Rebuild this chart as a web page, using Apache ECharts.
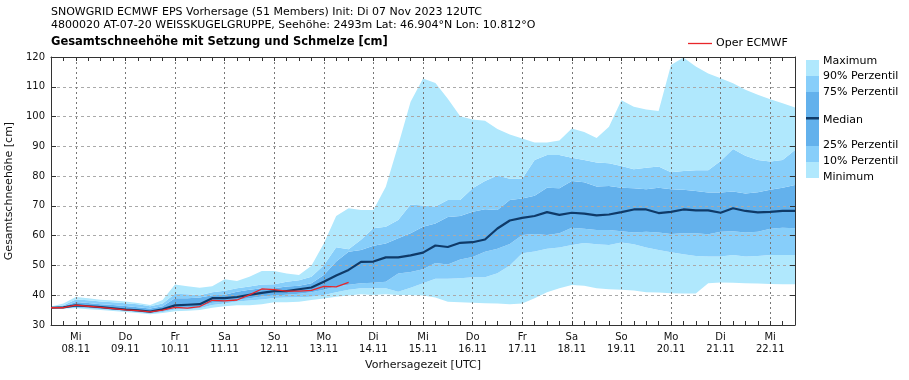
<!DOCTYPE html>
<html><head><meta charset="utf-8">
<script src="https://cdn.jsdelivr.net/npm/echarts@6/dist/echarts.min.js"></script>
<style>html,body{margin:0;padding:0;background:#fff}#c{width:909px;height:380px}</style>
</head><body><div id="c"></div>
<script>
// 6-hourly steps from Init Tue 07 Nov 2023 12UTC to 22 Nov 12UTC
const dayNames = ['Mi','Do','Fr','Sa','So','Mo','Di','Mi','Do','Fr','Sa','So','Mo','Di','Mi'];
const dayDates = ['08.11','09.11','10.11','11.11','12.11','13.11','14.11','15.11','16.11','17.11','18.11','19.11','20.11','21.11','22.11'];

const maximum = [36.2,37.2,39.4,39.0,38.5,38.2,37.9,37.4,36.7,38.4,43.6,43.0,42.5,43.0,45.4,44.8,46.2,48.1,48.1,47.3,46.8,49.9,57.4,66.6,69.2,68.6,68.6,76.4,90.4,105.0,112.8,111.3,106.0,100.1,99.0,98.6,95.8,94.0,92.6,91.3,91.3,92.0,96.0,94.8,92.8,96.6,105.5,103.3,102.4,101.9,117.3,119.8,116.8,114.5,112.9,111.2,109.0,107.3,105.8,104.5,103.0];
const p90 = [36.0,36.6,38.6,38.3,37.9,37.6,37.3,37.0,36.3,37.2,40.5,40.3,40.0,41.0,41.5,42.3,42.9,43.6,43.7,44.5,45.0,46.2,50.1,56.1,55.4,58.6,62.5,63.0,65.3,70.5,70.1,69.8,72.0,72.0,75.9,78.4,80.2,79.1,79.1,85.4,87.1,87.1,86.2,85.4,84.6,84.3,83.4,82.3,82.8,83.2,81.3,81.7,82.0,82.0,85.1,89.1,86.8,85.4,84.9,85.4,88.8];
const p75 = [35.9,36.2,37.7,37.4,37.0,36.7,36.4,36.0,35.5,36.3,39.0,39.0,39.2,40.0,40.2,41.2,41.8,42.3,42.3,42.9,43.2,44.0,46.8,51.3,54.6,55.2,56.6,57.4,59.1,60.8,63.0,64.1,66.3,66.6,68.0,68.9,68.6,72.0,72.5,73.4,76.1,75.9,78.4,77.9,76.5,76.7,76.1,75.9,75.6,76.1,75.6,75.4,75.0,74.5,74.5,74.8,74.2,74.6,75.4,76.1,77.0];
const median = [35.8,35.9,36.6,36.3,36.0,35.6,35.2,34.9,34.5,35.3,36.6,36.8,37.0,39.0,39.0,39.4,40.1,40.8,41.4,41.4,42.0,42.6,44.5,46.6,48.5,51.2,51.3,52.7,52.7,53.4,54.3,56.7,56.2,57.6,57.8,58.7,62.4,65.1,66.0,66.6,67.9,67.0,67.7,67.4,66.8,67.1,67.9,68.8,68.8,67.6,68.0,68.8,68.5,68.5,67.7,69.2,68.3,67.8,68.0,68.3,68.3];
const p25 = [35.7,35.8,36.1,35.9,35.6,35.3,35.0,34.6,34.1,34.8,35.8,35.9,36.2,37.5,37.8,38.5,39.0,39.6,39.9,40.2,40.5,41.0,41.8,42.9,43.5,44.0,44.2,44.5,47.3,47.8,48.7,50.8,50.3,52.0,52.8,54.6,55.6,57.2,60.2,60.6,60.2,60.8,62.7,62.3,61.9,61.9,61.5,61.1,61.3,61.1,60.6,60.8,60.8,60.5,61.3,61.5,61.1,61.3,62.3,62.7,62.5];
const p10 = [35.6,35.7,35.8,35.6,35.3,35.0,34.7,34.3,33.9,34.4,35.2,35.3,35.6,36.7,37.2,37.9,38.2,38.6,39.1,39.2,39.3,39.5,40.1,41.0,41.8,42.3,42.3,42.3,41.2,42.5,44.0,45.5,45.5,45.7,46.0,46.0,47.4,50.0,54.1,54.7,55.6,56.0,56.9,57.5,57.1,56.9,57.7,57.1,56.0,55.2,54.4,53.8,53.2,53.0,53.0,53.5,53.0,53.2,53.5,53.5,53.5];
const minimum = [35.5,35.5,35.6,35.3,35.0,34.7,34.4,34.0,33.6,34.0,34.6,34.8,35.0,35.8,36.3,36.6,36.6,37.0,37.6,37.6,37.8,38.4,38.9,39.5,39.9,40.3,40.1,40.3,40.1,40.1,39.9,39.2,37.8,37.6,37.5,37.3,37.2,37.0,37.2,39.0,41.0,42.3,43.4,43.2,42.3,42.0,41.8,41.6,41.0,40.9,40.7,40.6,40.6,44.0,44.3,44.2,44.0,43.9,43.8,43.7,43.7];
const oper = [35.8,35.8,36.7,36.3,35.9,35.5,35.1,34.8,34.4,35.0,35.9,35.7,36.2,38.3,38.1,38.4,40.1,42.1,41.9,41.4,41.4,41.6,43.0,42.8,44.3];

const C_LIGHT = '#b0e8fd', C_MID = '#87cefa', C_DARK = '#63b1ec', C_MED = '#0f3a68', C_OPER = '#e8262a';
const FONT = '"DejaVu Sans", sans-serif';

const n = median.length;
const categories = [];
for (let i = 0; i < n; i++) categories.push('+' + (i * 6) + 'h');
const isDay = (idx) => idx >= 2 && (idx - 2) % 4 === 0;
const diff = (a, b) => a.map((v, i) => +(v - b[i]).toFixed(2));

function band(name, data, color) {
  return { name, type: 'line', stack: 'b', data, symbol: 'none', z: 1,
    lineStyle: { width: 0, opacity: 0 }, areaStyle: { color, opacity: 1 }, silent: true };
}
function txt(x, y, text, font) {
  return { type: 'text', x, y, style: { text, font: font || ('11px ' + FONT), fill: '#000', verticalAlign: 'middle', textVerticalAlign: 'middle' } };
}

const chart = echarts.init(document.getElementById('c'), null, { renderer: 'canvas' });
chart.setOption({
  animation: false,
  textStyle: { fontFamily: FONT },
  grid: { left: 51, right: 114, top: 57, bottom: 55, containLabel: false, outerBoundsMode: 'none' },
  xAxis: [{
    type: 'category', data: categories, boundaryGap: false, z: 2,
    axisLine: { lineStyle: { color: '#333', width: 1 } },
    axisTick: { inside: true, length: 4, interval: 0, lineStyle: { color: '#333' } },
    axisLabel: { interval: isDay, margin: 6, fontSize: 10, lineHeight: 12, color: '#111', fontFamily: FONT,
      formatter: (v, idx) => { const k = (idx - 2) / 4; return dayNames[k] + '\n' + dayDates[k]; } },
    splitLine: { show: true, interval: isDay, lineStyle: { color: '#777', type: [2, 3], width: 1 } },
    name: 'Vorhersagezeit [UTC]', nameLocation: 'middle', nameGap: 34,
    nameTextStyle: { fontSize: 11, color: '#111', fontFamily: FONT }
  }, {
    type: 'category', data: categories, boundaryGap: false, position: 'top', z: 2,
    axisLine: { lineStyle: { color: '#333', width: 1 } },
    axisTick: { inside: true, length: 4, interval: 0, lineStyle: { color: '#333' } },
    axisLabel: { show: false }, splitLine: { show: false }
  }],
  yAxis: [{
    type: 'value', min: 30, max: 120, interval: 10, z: 2,
    axisLine: { show: true, lineStyle: { color: '#333', width: 1 } },
    axisTick: { show: true, inside: true, length: 5, lineStyle: { color: '#333' } },
    axisLabel: { fontSize: 10, color: '#111', margin: 6, fontFamily: FONT },
    splitLine: { show: true, lineStyle: { color: '#aaa', type: [3, 3], width: 1 } },
    name: 'Gesamtschneehöhe [cm]', nameLocation: 'middle', nameGap: 25,
    nameTextStyle: { fontSize: 11, color: '#111', fontFamily: FONT }
  }, {
    type: 'value', min: 30, max: 120, interval: 10, position: 'right', z: 2,
    axisLine: { show: true, lineStyle: { color: '#333', width: 1 } },
    axisTick: { show: true, inside: true, length: 5, lineStyle: { color: '#333' } },
    axisLabel: { show: false }, splitLine: { show: false }
  }],
  series: [
    { name: 'base', type: 'line', stack: 'b', data: minimum, symbol: 'none', z: 1, lineStyle: { opacity: 0, width: 0 }, silent: true },
    band('Minimum', diff(p10, minimum), C_LIGHT),
    band('10% Perzentil', diff(p25, p10), C_MID),
    band('25% Perzentil', diff(p75, p25), C_DARK),
    band('75% Perzentil', diff(p90, p75), C_MID),
    band('Maximum', diff(maximum, p90), C_LIGHT),
    { name: 'Median', type: 'line', data: median, symbol: 'none', z: 4, lineStyle: { color: C_MED, width: 2.2 } },
    { name: 'Oper ECMWF', type: 'line', data: oper, symbol: 'none', z: 5, lineStyle: { color: C_OPER, width: 1.3 } }
  ],
  graphic: [
    txt(51, 12.5, 'SNOWGRID ECMWF EPS Vorhersage (51 Members) Init: Di 07 Nov 2023 12UTC'),
    txt(51, 25.5, '4800020 AT-07-20 WEISSKUGELGRUPPE, Seehöhe: 2493m Lat: 46.904°N Lon: 10.812°O'),
    txt(51, 42.5, 'Gesamtschneehöhe mit Setzung und Schmelze [cm]', 'bold 11.5px ' + FONT),
    { type: 'line', shape: { x1: 688, y1: 43.5, x2: 712, y2: 43.5 }, style: { stroke: C_OPER, lineWidth: 1.3 } },
    txt(716, 43.5, 'Oper ECMWF'),
    { type: 'rect', shape: { x: 806, y: 60, width: 13, height: 16 }, style: { fill: C_LIGHT } },
    { type: 'rect', shape: { x: 806, y: 76, width: 13, height: 16 }, style: { fill: C_MID } },
    { type: 'rect', shape: { x: 806, y: 92, width: 13, height: 54 }, style: { fill: C_DARK } },
    { type: 'rect', shape: { x: 806, y: 117, width: 13, height: 2.5 }, style: { fill: C_MED } },
    { type: 'rect', shape: { x: 806, y: 146, width: 13, height: 16 }, style: { fill: C_MID } },
    { type: 'rect', shape: { x: 806, y: 162, width: 13, height: 16 }, style: { fill: C_LIGHT } },
    txt(823, 61, 'Maximum'),
    txt(823, 76.5, '90% Perzentil'),
    txt(823, 92, '75% Perzentil'),
    txt(823, 120, 'Median'),
    txt(823, 145.5, '25% Perzentil'),
    txt(823, 161, '10% Perzentil'),
    txt(823, 177, 'Minimum')
  ]
});
</script>
</body></html>
